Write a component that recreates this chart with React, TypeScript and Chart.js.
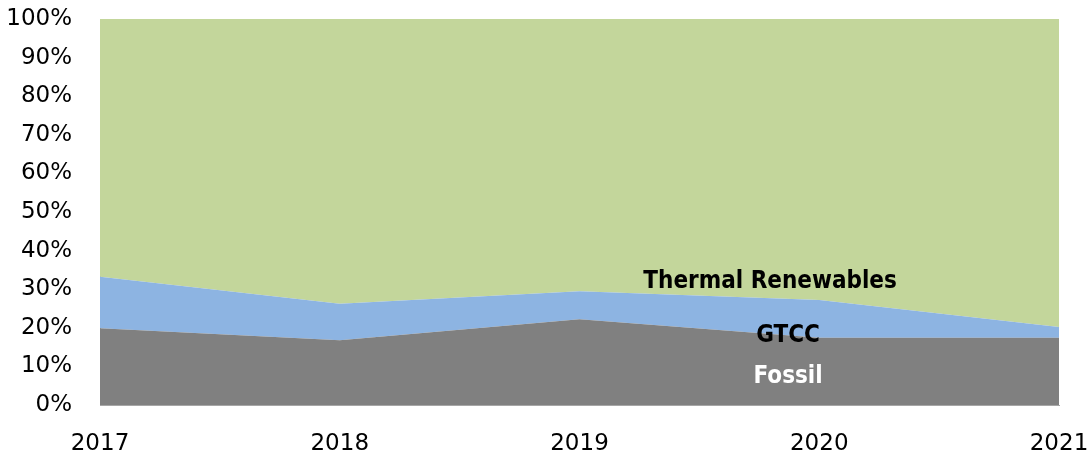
import React, { useEffect, useRef } from "react";
import { Chart, registerables } from "chart.js";

Chart.register(...registerables);

const years = ["2017", "2018", "2019", "2020", "2021"];
const fossil = [19.9, 16.8, 22.2, 17.4, 17.4];
const gtcc = [13.3, 9.4, 7.3, 9.8, 2.8];
const thermalRenewables = [66.8, 73.8, 70.5, 72.8, 79.8];
const yTicks = [0, 10, 20, 30, 40, 50, 60, 70, 80, 90, 100];

const areaLabels = [
  { text: "Thermal Renewables", x: 2.795, y: 30.3, color: "#000000" },
  { text: "GTCC", x: 2.87, y: 16.3, color: "#000000" },
  { text: "Fossil", x: 2.87, y: 5.7, color: "#FFFFFF" },
];

const labelPlugin = {
  id: "areaLabels",
  afterDatasetsDraw(chart: any) {
    const { ctx, scales } = chart;
    ctx.save();
    ctx.font = "bold 24px 'DejaVu Sans Condensed', 'DejaVu Sans', sans-serif";
    ctx.textAlign = "center";
    ctx.textBaseline = "alphabetic";
    for (const l of areaLabels) {
      ctx.fillStyle = l.color;
      ctx.fillText(l.text, scales.x.getPixelForValue(l.x), scales.y.getPixelForValue(l.y));
    }
    ctx.restore();
  },
};

export default function App() {
  const ref = useRef<HTMLCanvasElement>(null);
  useEffect(() => {
    document.body.style.margin = "0";
    const chart = new Chart(ref.current!, {
      type: "line",
      data: {
        labels: years,
        datasets: [
          { label: "Fossil", data: fossil, backgroundColor: "#808080", borderColor: "#808080", borderWidth: 0, pointRadius: 0, fill: "origin", tension: 0 },
          { label: "GTCC", data: gtcc, backgroundColor: "#8DB4E2", borderColor: "#8DB4E2", borderWidth: 0, pointRadius: 0, fill: "-1", tension: 0 },
          { label: "Thermal Renewables", data: thermalRenewables, backgroundColor: "#C3D69B", borderColor: "#C3D69B", borderWidth: 0, pointRadius: 0, fill: "-1", tension: 0 },
        ],
      },
      options: {
        animation: false,
        responsive: false,
        layout: { padding: { top: 19, right: 32, left: 0, bottom: 0 } },
        plugins: { legend: { display: false }, tooltip: { enabled: false } },
        scales: {
          x: {
            offset: false,
            grid: { display: false, drawTicks: false },
            border: { display: true, color: "#A6A6A6", width: 1 },
            ticks: {
              color: "#000000",
              font: { family: "'DejaVu Sans', sans-serif", size: 23 },
              padding: 25,
              maxRotation: 0,
              autoSkip: false,
            },
            afterFit(s: any) { s.height = 51; s.paddingLeft = 0; s.paddingRight = 0; },
          },
          y: {
            stacked: true,
            min: 0,
            max: 100,
            afterBuildTicks(s: any) { s.ticks = yTicks.map((v) => ({ value: v })); },
            grid: { display: false, drawTicks: false },
            border: { display: true, color: "#A6A6A6", width: 1 },
            ticks: {
              color: "#000000",
              font: { family: "'DejaVu Sans', sans-serif", size: 23 },
              padding: 28,
              callback: (v: any) => v + "%",
            },
            afterFit(s: any) { s.width = 100; s.paddingTop = 0; s.paddingBottom = 0; },
          },
        },
      },
      plugins: [labelPlugin],
    });
    return () => chart.destroy();
  }, []);
  return <canvas ref={ref} width={1091} height={456} style={{ display: "block" }} />;
}
